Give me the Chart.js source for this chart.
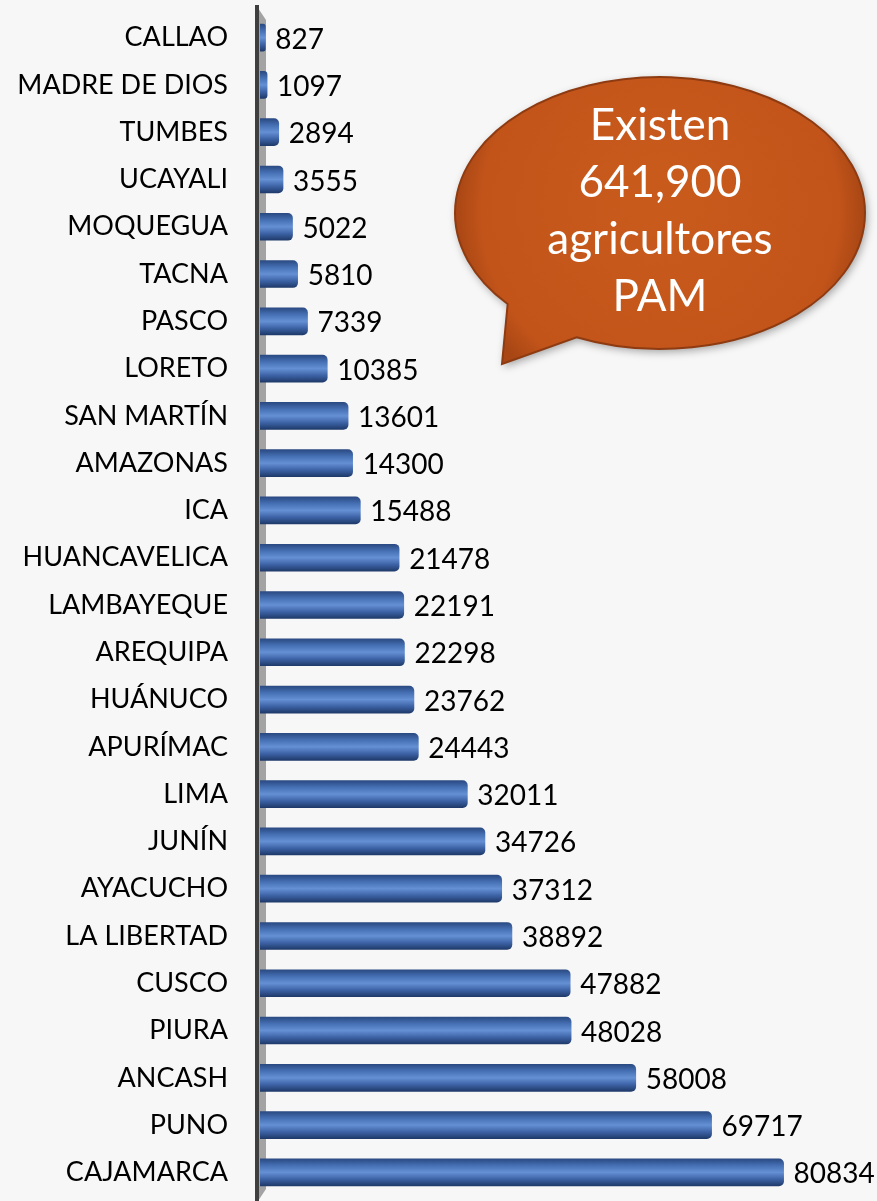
<!DOCTYPE html>
<html>
<head>
<meta charset="utf-8">
<script src="https://cdn.jsdelivr.net/npm/chart.js@4.4.0/dist/chart.umd.min.js"></script>
<style>
  html, body { margin: 0; padding: 0; background: #f7f7f7; }
  #wrap { width: 877px; height: 1201px; position: relative; }
</style>
</head>
<body>
<div id="wrap"><canvas id="chart"></canvas></div>
<script>
// Departments (top to bottom) and number of farmers
const departments = [
    'CALLAO', 'MADRE DE DIOS', 'TUMBES', 'UCAYALI', 'MOQUEGUA', 'TACNA', 'PASCO',
    'LORETO', 'SAN MARTÍN', 'AMAZONAS', 'ICA', 'HUANCAVELICA', 'LAMBAYEQUE',
    'AREQUIPA', 'HUÁNUCO', 'APURÍMAC', 'LIMA', 'JUNÍN', 'AYACUCHO', 'LA LIBERTAD',
    'CUSCO', 'PIURA', 'ANCASH', 'PUNO', 'CAJAMARCA'
];
const farmers = [
    827, 1097, 2894, 3555, 5022, 5810, 7339,
    10385, 13601, 14300, 15488, 21478, 22191,
    22298, 23762, 24443, 32011, 34726, 37312, 38892,
    47882, 48028, 58008, 69717, 80834
];
const calloutLines = ['Existen', '641,900', 'agricultores', 'PAM'];

const BAR_H = 27;

// Blue cylinder look for each bar
function barGradient(context) {
    const chart = context.chart;
    const yScale = chart.scales && chart.scales.y;
    if (!yScale || context.dataIndex === undefined) return '#4472c4';
    const cy = yScale.getPixelForValue(context.dataIndex);
    if (!isFinite(cy)) return '#4472c4';
    const g = chart.ctx.createLinearGradient(0, cy - BAR_H / 2, 0, cy + BAR_H / 2);
    g.addColorStop(0, '#2a4a82');
    g.addColorStop(0.25, '#4670b4');
    g.addColorStop(0.5, '#6590d4');
    g.addColorStop(0.75, '#3d63a6');
    g.addColorStop(1, '#1f3a6a');
    return g;
}

// Gray 3D wall and the dark axis line
const wallPlugin = {
    id: 'wall',
    beforeDatasetsDraw(chart) {
        const ctx = chart.ctx;
        ctx.save();
        ctx.fillStyle = '#a3a3a3';
        ctx.beginPath();
        ctx.moveTo(258, 8);
        ctx.lineTo(266, 20);
        ctx.lineTo(266, 1189);
        ctx.lineTo(258, 1201);
        ctx.closePath();
        ctx.fill();
        ctx.fillStyle = '#3f3f3f';
        ctx.fillRect(255, 5, 4, 1196);
        ctx.restore();
    }
};

// Value labels at the end of each bar
const valueLabels = {
    id: 'valueLabels',
    afterDatasetsDraw(chart) {
        const ctx = chart.ctx;
        const meta = chart.getDatasetMeta(0);
        ctx.save();
        ctx.font = '28px Lato';
        ctx.fillStyle = '#000';
        ctx.textAlign = 'left';
        ctx.textBaseline = 'middle';
        meta.data.forEach((bar, i) => {
            ctx.fillText(String(farmers[i]), bar.x + 10, bar.y + 2);
        });
        ctx.restore();
    }
};

// Speech bubble callout
const callout = {
    id: 'callout',
    afterDraw(chart) {
        const ctx = chart.ctx;
        const cx = 660, cy = 213, rx = 205, ry = 136;
        const deg = Math.PI / 180;
        ctx.save();
        ctx.shadowColor = 'rgba(0,0,0,0.35)';
        ctx.shadowBlur = 8;
        ctx.shadowOffsetX = 2;
        ctx.shadowOffsetY = 3;
        ctx.beginPath();
        ctx.ellipse(cx, cy, rx, ry, 0, 138 * deg, (114 + 360) * deg, false);
        ctx.lineTo(502, 364);
        ctx.closePath();
        const g = ctx.createRadialGradient(cx, cy - 20, 30, cx, cy, rx);
        g.addColorStop(0, '#c85a1c');
        g.addColorStop(0.85, '#c2541a');
        g.addColorStop(1, '#a84614');
        ctx.fillStyle = g;
        ctx.fill();
        ctx.shadowColor = 'transparent';
        ctx.strokeStyle = '#8e3b12';
        ctx.lineWidth = 2;
        ctx.stroke();

        ctx.fillStyle = '#ffffff';
        ctx.font = '44px Lato';
        ctx.textAlign = 'center';
        ctx.textBaseline = 'alphabetic';
        calloutLines.forEach((line, i) => {
            ctx.fillText(line, cx, 140 + i * 57);
        });
        ctx.restore();
    }
};

new Chart(document.getElementById('chart'), {
    type: 'bar',
    data: {
        labels: departments,
        datasets: [{
            data: farmers,
            backgroundColor: barGradient,
            borderWidth: 0,
            borderRadius: { topRight: 5, bottomRight: 5 },
            borderSkipped: 'start',
            barThickness: BAR_H
        }]
    },
    options: {
        indexAxis: 'y',
        responsive: true,
        maintainAspectRatio: false,
        animation: false,
        layout: { padding: { top: 14, bottom: 5, right: 34, left: 0 } },
        plugins: {
            legend: { display: false },
            tooltip: { enabled: false }
        },
        scales: {
            x: {
                display: false,
                min: 0,
                max: 90000
            },
            y: {
                afterFit(scale) {
                    scale.width = 260;
                    scale.paddingTop = 0;
                    scale.paddingBottom = 0;
                },
                grid: { display: false, drawTicks: false },
                border: { display: false },
                ticks: {
                    padding: 32,
                    color: '#000',
                    font: { family: 'Lato', size: 27 }
                }
            }
        }
    },
    plugins: [wallPlugin, valueLabels, callout]
});
</script>
</body>
</html>
